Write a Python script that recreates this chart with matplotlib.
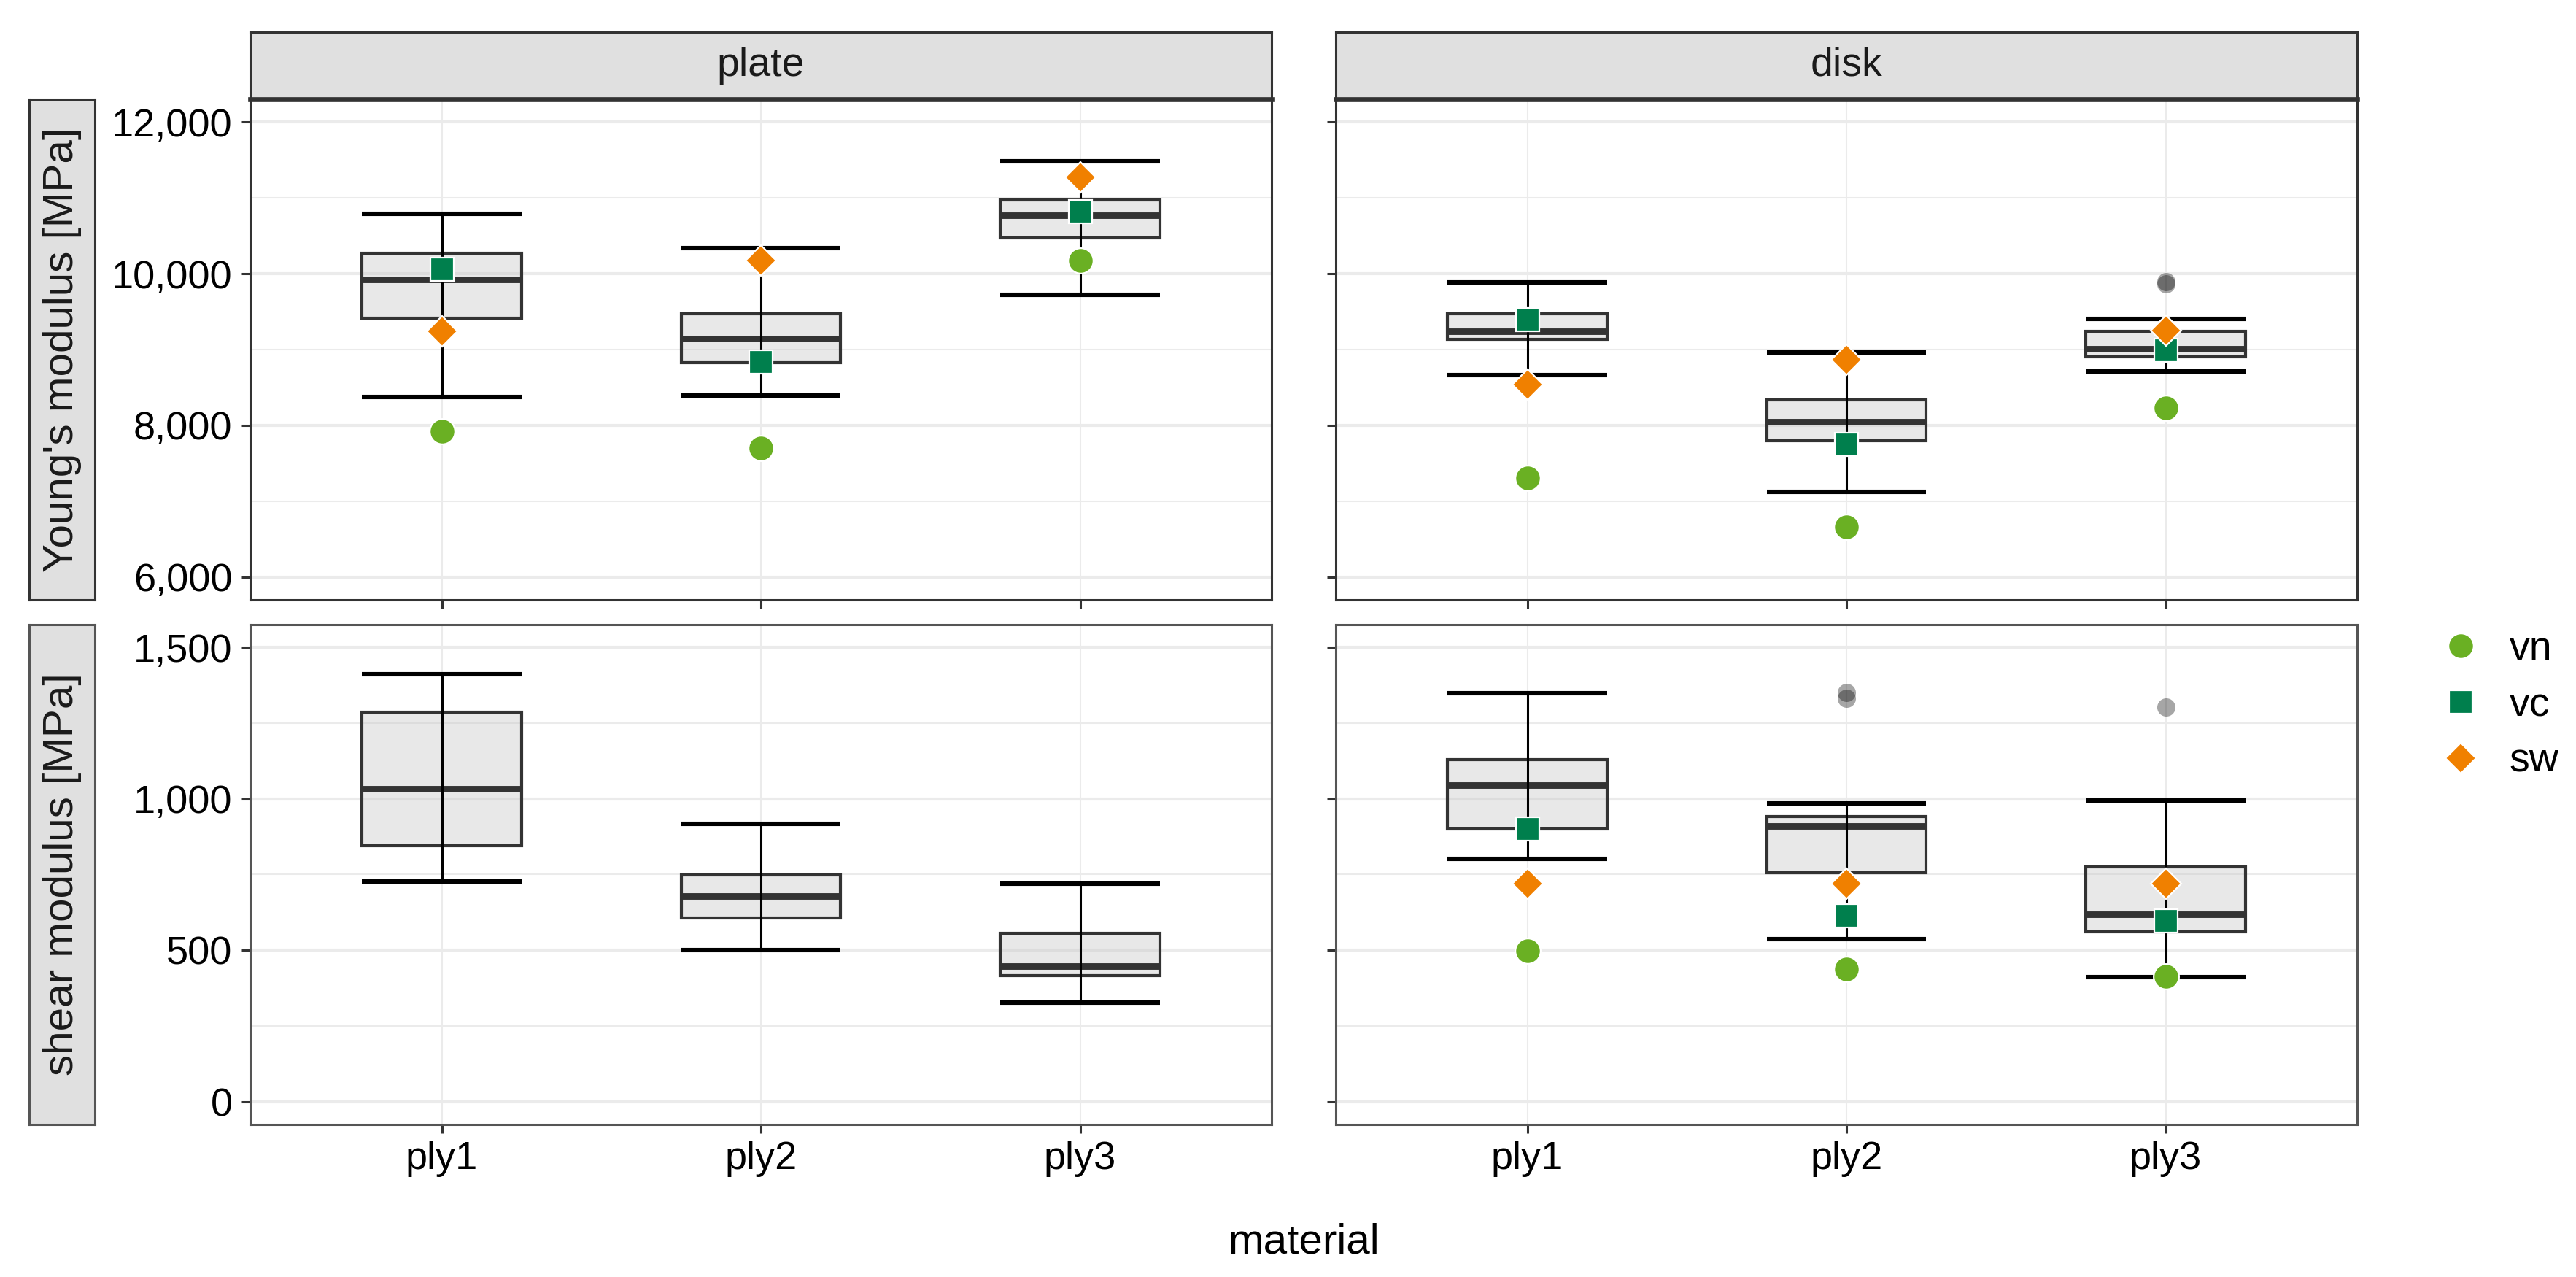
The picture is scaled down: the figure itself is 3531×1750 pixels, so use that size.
import matplotlib
matplotlib.use("Agg")
import matplotlib.pyplot as plt
from matplotlib.ticker import FuncFormatter, MultipleLocator, FixedLocator
from matplotlib.lines import Line2D

plt.rcParams['font.family'] = ['Liberation Sans', 'DejaVu Sans']

# ---------------- data ----------------
categories = ["ply1", "ply2", "ply3"]
shapes = ["plate", "disk"]
rows = ["Young's modulus [MPa]", "shear modulus [MPa]"]

# box stats: whislo, q1, med, q3, whishi
young_plate_box = [[8373, 9411, 9923, 10268, 10794],
                   [8397, 8823, 9143, 9474, 10335],
                   [9722, 10469, 10770, 10976, 11483]]
young_disk_box = [[8660, 9132, 9239, 9469, 9888],
                  [7120, 7795, 8048, 8333, 8966],
                  [8713, 8900, 9010, 9239, 9403]]
shear_plate_box = [[728, 845, 1034, 1286, 1411],
                   [500, 606, 679, 748, 917],
                   [328, 417, 447, 555, 721]]
shear_disk_box = [[801, 901, 1046, 1130, 1348],
                  [537, 756, 909, 942, 986],
                  [412, 561, 619, 776, 995]]

young_plate_out = [[], [], []]
young_disk_out = [[], [], [9894, 9870]]
shear_plate_out = [[], [], []]
shear_disk_out = [[], [1352, 1332], [1304]]

# model predictions per category
young_plate_vn = [7923, 7700, 10172]
young_plate_vc = [10060, 8837, 10818]
young_plate_sw = [9240, 10172, 11270]
young_disk_vn = [7306, 6661, 8230]
young_disk_vc = [9397, 7747, 8995]
young_disk_sw = [8541, 8862, 9253]
shear_disk_vn = [498, 437, 413]
shear_disk_vc = [901, 614, 598]
shear_disk_sw = [721, 721, 721]

series_names = ["vn", "vc", "sw"]
series_colors = ["#6AB023", "#007F4D", "#F08000"]
series_markers = ["o", "s", "D"]
series_msize = [12.5, 11.5, 10.8]

young_limits = (6000, 12000)
shear_limits = (0, 1500)

panels = {
    (0, 0): (young_plate_box, young_plate_out, [young_plate_vn, young_plate_vc, young_plate_sw]),
    (0, 1): (young_disk_box, young_disk_out, [young_disk_vn, young_disk_vc, young_disk_sw]),
    (1, 0): (shear_plate_box, shear_plate_out, None),
    (1, 1): (shear_disk_box, shear_disk_out, [shear_disk_vn, shear_disk_vc, shear_disk_sw]),
}

# ---------------- layout ----------------
W, H = 3531, 1750
DPI = 200
fig = plt.figure(figsize=(W / DPI, H / DPI), dpi=DPI)
fig.patch.set_facecolor("white")

def rect(x0, y0, x1, y1):
    return [x0 / W, 1 - y1 / H, (x1 - x0) / W, (y1 - y0) / H]

col_x = [(343, 1743), (1831, 3231)]
row_y = [(136, 822), (856, 1541)]
strip_top = (44, 136)
strip_left = (40, 130)

TICK_FS = 19.5
STRIP_FS = 20
YSTRIP_FS = 21
DARK = "#333333"
GRID = "#EBEBEB"

fmt = FuncFormatter(lambda v, p: "{:,.0f}".format(v))

for r in range(2):
    lims = young_limits if r == 0 else shear_limits
    span = lims[1] - lims[0]
    for c in range(2):
        x0, x1 = col_x[c]
        y0, y1 = row_y[r]
        ax = fig.add_axes(rect(x0, y0, x1, y1))
        box, outl, pts = panels[(r, c)]
        pos = [1, 2, 3]
        # boxes
        stats = []
        for i, b in enumerate(box):
            stats.append(dict(whislo=b[0], q1=b[1], med=b[2], q3=b[3], whishi=b[4],
                              fliers=outl[i], label=categories[i]))
        ax.bxp(stats, positions=pos, widths=0.5, patch_artist=True, showcaps=False,
               manage_ticks=False,
               boxprops=dict(facecolor=(0.78, 0.78, 0.78, 0.4), edgecolor=DARK, linewidth=1.5),
               medianprops=dict(color=DARK, linewidth=3.2),
               whiskerprops=dict(visible=False),
               flierprops=dict(marker="o", markersize=9, markerfacecolor=(0, 0, 0, 0.35),
                               markeredgecolor="none", linestyle="none"),
               zorder=2)
        # error bars (whisker line + caps)
        los = [b[0] for b in box]
        his = [b[4] for b in box]
        ax.vlines(pos, los, his, colors="black", lw=1.1, zorder=2.2)
        ax.hlines(los, [p - 0.25 for p in pos], [p + 0.25 for p in pos], colors="black", lw=2.2, zorder=2.2)
        ax.hlines(his, [p - 0.25 for p in pos], [p + 0.25 for p in pos], colors="black", lw=2.2, zorder=2.2)
        # points
        if pts is not None:
            for k in range(3):
                ax.plot(pos, pts[k], linestyle="none", marker=series_markers[k],
                        markersize=series_msize[k], markerfacecolor=series_colors[k],
                        markeredgecolor="white", markeredgewidth=0.8, zorder=4 + k)
        # axes setup
        ax.set_xlim(0.4, 3.6)
        ax.set_ylim(lims[0] - 0.05 * span, lims[1] + 0.05 * span)
        ax.yaxis.set_major_locator(MultipleLocator(span / 3))
        ax.yaxis.set_minor_locator(MultipleLocator(span / 6))
        ax.xaxis.set_major_locator(FixedLocator(pos))
        ax.set_xticklabels(categories)
        ax.grid(which="major", axis="y", color=GRID, lw=1.5, zorder=0)
        ax.grid(which="minor", axis="y", color=GRID, lw=0.75, zorder=0)
        ax.grid(which="major", axis="x", color=GRID, lw=0.75, zorder=0)
        ax.set_axisbelow(True)
        ax.tick_params(which="minor", length=0)
        ax.yaxis.set_major_formatter(fmt)
        ax.tick_params(which="major", length=4.3, width=1.1, color=DARK, labelsize=TICK_FS,
                       labelcolor="black", pad=4.5)
        ax.tick_params(axis="x", pad=3.5)
        if c == 1:
            ax.tick_params(axis="y", labelleft=False)
        if r == 0:
            ax.tick_params(axis="x", labelbottom=False)
        edge = DARK if r == 0 else "#555555"
        for s in ax.spines.values():
            s.set_color(edge)
            s.set_linewidth(1.1)

    # left strip
    y0, y1 = row_y[r]
    sax = fig.add_axes(rect(strip_left[0], y0, strip_left[1], y1))
    sax.set_facecolor("#E0E0E0")
    sax.set_xticks([]); sax.set_yticks([])
    for s in sax.spines.values():
        s.set_color(DARK if r == 0 else "#555555")
        s.set_linewidth(1.1)
    sax.text(0.5, 0.5, rows[r], rotation=90, ha="center", va="center",
             fontsize=YSTRIP_FS, color="#1A1A1A", transform=sax.transAxes)

# top strips
for c in range(2):
    x0, x1 = col_x[c]
    tax = fig.add_axes(rect(x0, strip_top[0], x1, strip_top[1]))
    tax.set_facecolor("#E0E0E0")
    tax.set_xticks([]); tax.set_yticks([])
    for s in tax.spines.values():
        s.set_color(DARK)
        s.set_linewidth(1.1)
    tax.spines["bottom"].set_linewidth(2.4)
    tax.text(0.5, 0.5, shapes[c], ha="center", va="center", fontsize=STRIP_FS,
             color="#1A1A1A", transform=tax.transAxes)

# x label
fig.text((343 + 3231) / 2 / W, 1 - 1703 / H, "material", ha="center", va="center",
         fontsize=YSTRIP_FS, color="black")

# legend
handles = [Line2D([], [], linestyle="none", marker=series_markers[k], markersize=series_msize[k],
                  markerfacecolor=series_colors[k], markeredgecolor="white", markeredgewidth=0.8)
           for k in range(3)]
fig.legend(handles, series_names, loc="center left", bbox_to_anchor=(3345 / W, 1 - 967 / H),
           frameon=False, fontsize=20, handlelength=1.0, handletextpad=0.7, labelspacing=0.45,
           borderaxespad=0, borderpad=0)

fig.savefig("out.png", dpi=DPI, facecolor="white")
